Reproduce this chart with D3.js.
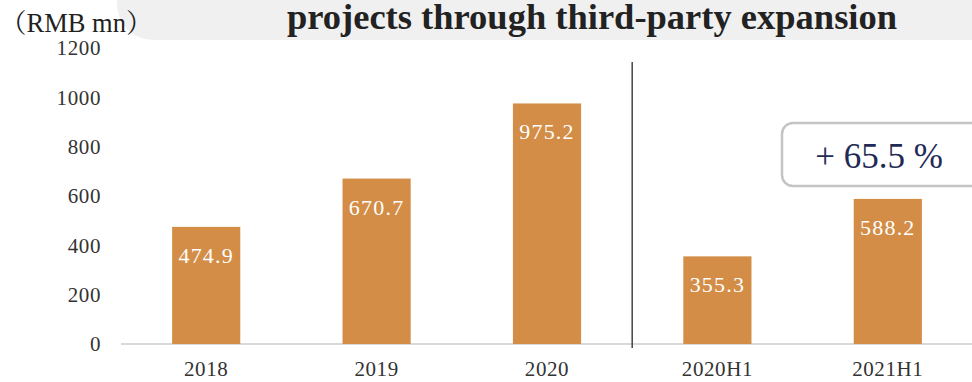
<!DOCTYPE html>
<html>
<head>
<meta charset="utf-8">
<script src="https://cdn.jsdelivr.net/npm/d3@7"></script>
<style>
  html, body { margin: 0; padding: 0; background: #fff; }
  svg { display: block; }
</style>
</head>
<body>
<svg id="chart" width="972" height="382"></svg>
<script>
// Revenue from projects obtained through third-party expansion (RMB mn)
const categories = ["2018", "2019", "2020", "2020H1", "2021H1"];
const values = [474.9, 670.7, 975.2, 355.3, 588.2];
const yTicks = [0, 200, 400, 600, 800, 1000, 1200];
const titleText = "projects through third-party expansion";
const unitParts = ["（", "RMB mn", "）"];
const growthText = "+ 65.5 %";

const svg = d3.select("#chart");
const serif = "'Liberation Serif', 'DejaVu Serif', serif";
const cjkSerif = "'Noto Serif CJK SC', 'Noto Sans CJK SC', serif";

// header band
svg.append("rect")
  .attr("x", 117).attr("y", -45)
  .attr("width", 920).attr("height", 85)
  .attr("rx", 36).attr("ry", 36)
  .attr("fill", "#f0f0f0");

svg.append("text")
  .attr("x", 592).attr("y", 29)
  .attr("text-anchor", "middle")
  .attr("font-family", serif)
  .attr("font-weight", "bold")
  .attr("font-size", 36.5)
  .attr("fill", "#222")
  .text(titleText);

// unit caption: full-width brackets around the unit
const unit = svg.append("text")
  .attr("x", 0).attr("y", 32)
  .attr("font-size", 26.5)
  .attr("fill", "#222");
unit.selectAll("tspan")
  .data(unitParts)
  .join("tspan")
  .attr("font-family", (d, i) => i === 1 ? serif : cjkSerif)
  .text(d => d);

const x = d3.scaleBand()
  .domain(categories)
  .range([121, 973])
  .paddingInner(0.6)
  .paddingOuter(0.3);

const y = d3.scaleLinear()
  .domain([0, 1200])
  .range([344, 48]);

const labelFont = sel => sel
  .attr("font-family", serif)
  .attr("font-size", 21)
  .attr("letter-spacing", 0.6)
  .attr("fill", "#333");

// y axis labels
const yAxis = d3.axisLeft(y)
  .tickValues(yTicks)
  .tickFormat(d3.format("d"))
  .tickSize(0)
  .tickPadding(0);
const yg = svg.append("g")
  .attr("transform", "translate(101,0)")
  .call(yAxis);
yg.select(".domain").remove();
yg.selectAll("text").call(labelFont);

// baseline + category labels
const xAxis = d3.axisBottom(x).tickSize(0).tickPadding(0);
const xg = svg.append("g")
  .attr("transform", `translate(0,${y(0)})`)
  .call(xAxis);
xg.select(".domain")
  .attr("d", "M121,0H973")
  .attr("stroke", "#d9d9d9")
  .attr("stroke-width", 2);
xg.selectAll("text")
  .attr("y", 25)
  .attr("dy", "0.32em")
  .call(labelFont);

// bars
svg.append("g").selectAll("rect")
  .data(values)
  .join("rect")
  .attr("x", (d, i) => x(categories[i]))
  .attr("y", d => y(d))
  .attr("width", x.bandwidth())
  .attr("height", d => y(0) - y(d))
  .attr("fill", "#d38d46");

// value labels
svg.append("g").selectAll("text")
  .data(values)
  .join("text")
  .attr("x", (d, i) => x(categories[i]) + x.bandwidth() / 2)
  .attr("y", d => y(d) + 36)
  .attr("text-anchor", "middle")
  .attr("font-family", serif)
  .attr("font-size", 22)
  .attr("letter-spacing", 1.2)
  .attr("fill", "#fff")
  .text(d => d.toFixed(1));

// divider between annual and half-year figures
const divX = (x("2020") + x.bandwidth() + x("2020H1")) / 2;
svg.append("line")
  .attr("x1", divX).attr("x2", divX)
  .attr("y1", 62).attr("y2", 348)
  .attr("stroke", "#444")
  .attr("stroke-width", 1.5);

// growth callout
svg.append("rect")
  .attr("x", 782).attr("y", 123)
  .attr("width", 200).attr("height", 63)
  .attr("rx", 11).attr("ry", 11)
  .attr("fill", "#fff")
  .attr("stroke", "#c4c4c4")
  .attr("stroke-width", 2.5);
svg.append("text")
  .attr("x", 879).attr("y", 168)
  .attr("text-anchor", "middle")
  .attr("font-family", serif)
  .attr("font-size", 35)
  .attr("fill", "#1f2a55")
  .text(growthText);
</script>
</body>
</html>
